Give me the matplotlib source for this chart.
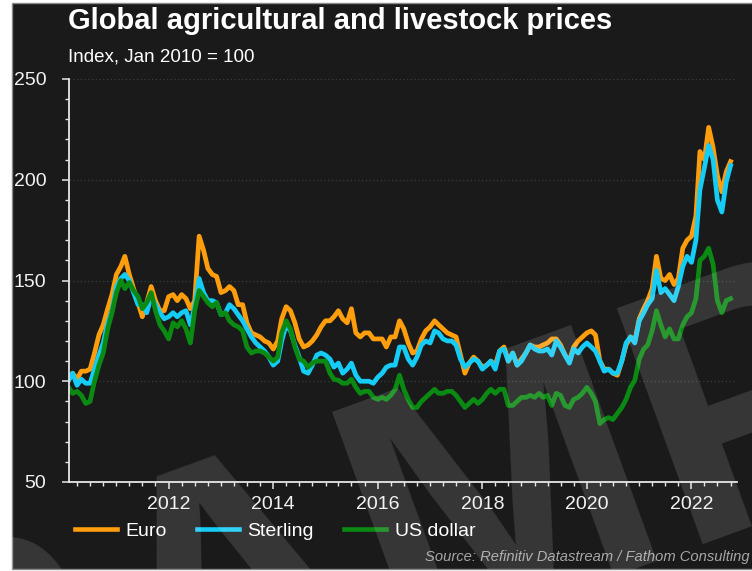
import numpy as np
import pandas as pd
import matplotlib
matplotlib.use("Agg")
import matplotlib.pyplot as plt
import matplotlib.dates as mdates
from matplotlib.patches import Rectangle

plt.rcParams['font.family'] = ['Liberation Sans', 'DejaVu Sans']

# ---------------- data (monthly readings, Feb 2010 - Oct 2022) ----------------
start_month = "2010-02-01"

euro = [100.5, 104, 101, 105, 105, 106, 114, 123, 128, 136,
        143, 153, 157, 162, 153, 146, 139, 132, 139, 147,
        140, 135, 135, 142, 143, 140, 143, 141, 136, 140,
        172, 165, 156, 153, 152, 144, 145, 147, 145, 138,
        138, 129, 124, 123, 122, 120, 119, 116, 120, 131,
        137, 135, 129, 121, 117, 118, 120, 123, 127, 130,
        130, 132, 135, 131, 129, 136, 124, 122, 124, 124,
        121, 121, 121, 117, 122, 122,
        130, 126, 119, 114, 115, 121, 125, 127, 130, 128,
        126, 124, 123, 122, 113, 104, 109, 112, 110, 107,
        108, 110, 108, 115, 117, 110, 114, 108, 111, 114,
        118, 117, 117, 118, 119, 121, 121, 118, 113, 110,
        117, 120, 122, 124, 125, 123, 110, 106, 106, 104,
        103, 110, 118, 122, 120, 131, 136, 140, 146, 162,
        151, 150, 153, 148, 151, 166, 170, 172, 182, 214,
        210, 226, 216, 202, 194, 204, 209]

sterling = [100.5, 104, 98, 101, 99, 99, 106, 113, 119, 129,
            135, 147, 151, 153, 150, 144, 138, 138, 134, 142,
            138, 134, 131, 132, 134, 132, 134, 135, 128, 137,
            151, 144, 140, 140, 139, 133, 134, 138, 136, 133,
            130, 126, 122, 119, 117, 115, 112, 108, 110, 120,
            128, 125, 118, 112, 105, 104, 108, 113, 114, 113,
            111, 107, 109, 104, 106, 109, 103, 100, 100, 100,
            99, 102, 104, 107, 108, 108,
            117, 117, 111, 108, 112, 118, 120, 119, 125, 124,
            121, 120, 120, 118, 111, 107, 109, 111, 110, 106,
            108, 110, 106, 115, 116, 110, 114, 108, 110, 114,
            118, 116, 115, 115, 116, 113, 120, 117, 113, 109,
            116, 114, 117, 119, 117, 115, 110, 105, 106, 104,
            104, 110, 119, 122, 119, 130, 134, 138, 141, 155,
            144, 146, 143, 140, 147, 157, 162, 159, 170, 195,
            206, 217, 210, 190, 184, 199, 207]

us_dollar = [97, 94, 95, 93, 89, 90, 100, 108, 114, 126,
             134, 144, 150, 146, 149, 145, 142, 136, 139, 144,
             135, 128, 125, 121, 129, 127, 130, 126, 119, 135,
             145, 142, 139, 137, 139, 133, 134, 130, 128, 127,
             125, 117, 114, 115, 115, 114, 112, 110, 112, 124,
             130, 126, 117, 111, 110, 107, 109, 110, 110, 110,
             104, 101, 100.5, 99, 99, 101, 97, 94, 95, 95,
             92, 91, 92, 91, 93, 96,
             103, 96, 91, 87, 87, 90, 92, 94, 96, 94,
             94, 95, 95, 93, 90, 87, 89, 91, 89, 91,
             94, 96, 94, 96, 96, 88, 88, 90, 92, 92,
             93, 92, 94, 92, 93, 88, 94, 93, 88, 87,
             91, 92, 94, 97, 94, 90, 79, 81, 82, 81,
             84, 87, 91, 97, 100.5, 111, 116, 118, 125, 135,
             128, 122, 126, 121, 121, 128, 132, 134, 141, 160,
             162, 166, 158, 140, 134, 140, 141]

series_names = ["Euro", "Sterling", "US dollar"]
series_colors = ["#FF9E0D", "#14CCF5", "#0A8A12"]
y_ticks = [50, 100, 150, 200, 250]

dates = pd.date_range(start_month, periods=len(euro), freq="MS")

# ---------------- figure ----------------
BG = "#1a1a1a"
fig = plt.figure(figsize=(7.52, 5.71), dpi=100, facecolor="white")

panel = Rectangle((12 / 752, 2 / 571), 760 / 752, 566 / 571, transform=fig.transFigure,
                  facecolor=BG, edgecolor="#8a8a8a", linewidth=1.0, zorder=-5)
fig.patches.append(panel)

ax = fig.add_axes([68.6 / 752, 1 - 482 / 571, (737 - 68.6) / 752, (482 - 79) / 571])
ax.set_facecolor("none")

for vals, name, col in zip([euro, sterling, us_dollar], series_names, series_colors):
    ax.plot(dates, vals, color=col, lw=3.4, label=name, solid_joinstyle="round")

ax.set_ylim(50, 250)
ax.set_xlim(pd.Timestamp("2010-02-01"), pd.Timestamp("2022-11-15"))
ax.set_yticks(y_ticks)
ax.yaxis.set_minor_locator(matplotlib.ticker.MultipleLocator(10))
ax.xaxis.set_major_locator(mdates.YearLocator(2))
ax.xaxis.set_major_formatter(mdates.DateFormatter("%Y"))
ax.xaxis.set_minor_locator(mdates.MonthLocator(bymonth=[1, 4, 7, 10]))

for s in ["top", "right"]:
    ax.spines[s].set_visible(False)
for s in ["left", "bottom"]:
    ax.spines[s].set_color("#e6e6e6")
    ax.spines[s].set_linewidth(1.3)

ax.tick_params(axis="both", which="major", colors="#e6e6e6", length=5, width=1.1,
               labelsize=14, labelcolor="#f2f2f2")
ax.tick_params(axis="both", which="minor", colors="#e6e6e6", length=3, width=1.0)
ax.tick_params(axis="y", which="major", pad=11)
ax.tick_params(axis="x", which="major", pad=5)

ax.grid(axis="y", which="major", color="#34423a", linestyle=(0, (1, 2)), linewidth=0.9)
ax.set_axisbelow(True)

# titles
fig.text(68 / 752, 1 - 29 / 571, "Global agricultural and livestock prices",
         fontsize=21, fontweight="bold", color="white", ha="left", va="baseline")
fig.text(68 / 752, 1 - 62 / 571, "Index, Jan 2010 = 100",
         fontsize=13.5, color="white", ha="left", va="baseline")

# legend
leg = fig.legend(loc="center left", bbox_to_anchor=(75 / 752, 1 - 531 / 571), ncol=3,
                 frameon=False, fontsize=14, handlelength=2.15, handletextpad=0.45,
                 columnspacing=1.55, labelcolor="white", borderaxespad=0, borderpad=0)
for h in leg.legend_handles:
    h.set_linewidth(3.3)

fig.text(750 / 752, 1 - 557 / 571, "Source: Refinitiv Datastream / Fathom Consulting",
         fontsize=10.6, style="italic", color="#a6a6a6", ha="right", va="center")

# watermark
wm = fig.text(600 / 752, 1 - 478 / 571, "SAMPLE", fontsize=262, fontweight="bold",
              color="white", alpha=0.13, rotation=20, rotation_mode="anchor",
              ha="center", va="center", zorder=10)
wm.set_clip_path(panel)

fig.savefig("out.png", dpi=100, facecolor=fig.get_facecolor())
